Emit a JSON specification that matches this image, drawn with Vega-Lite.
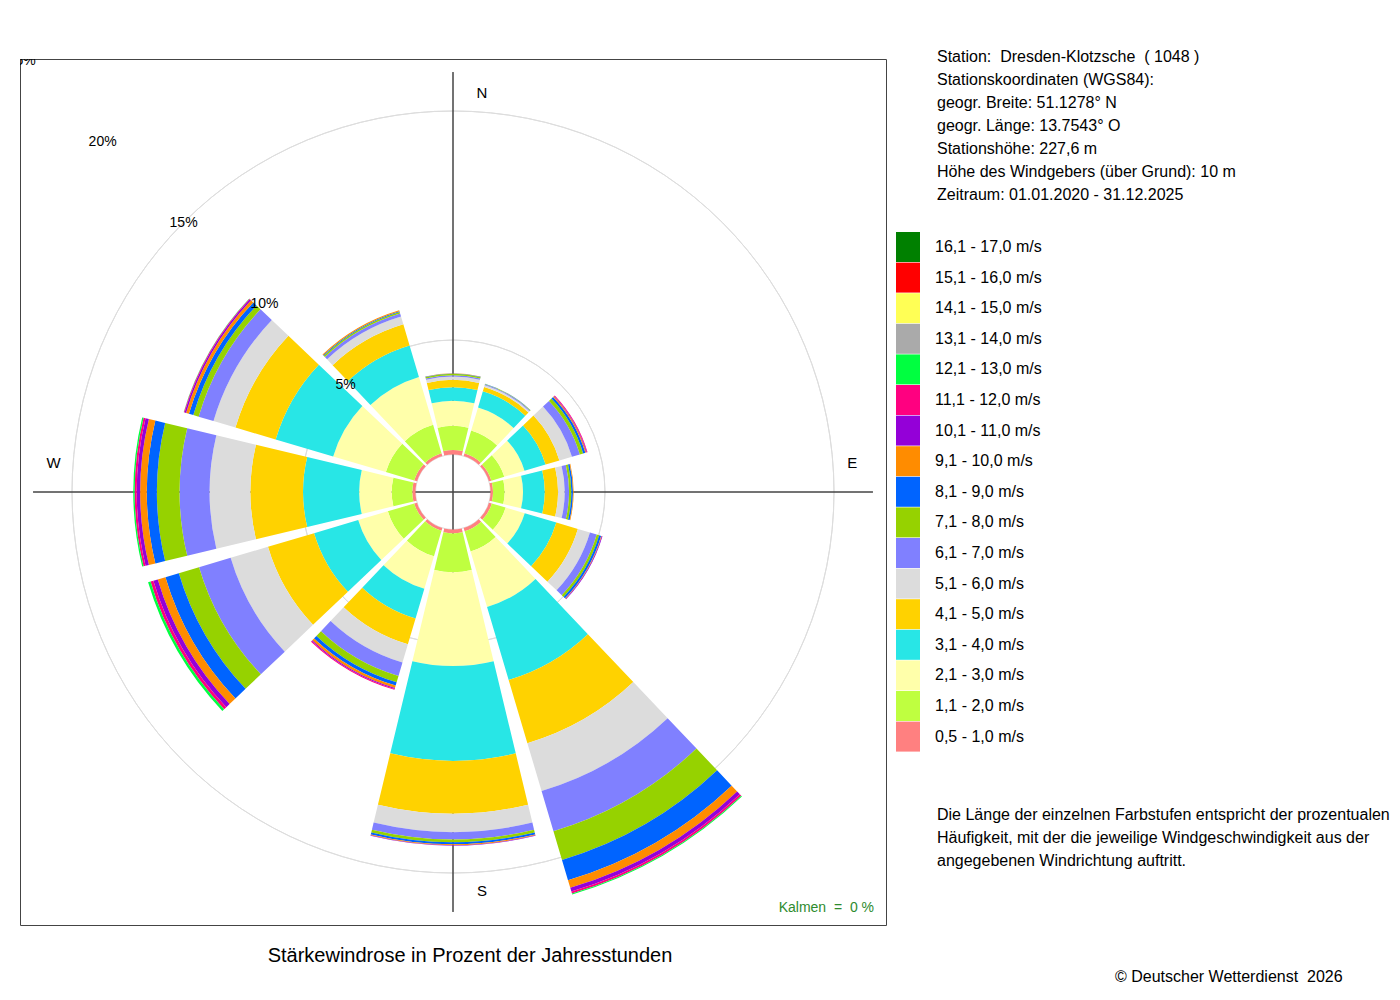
{
  "$schema": "https://vega.github.io/schema/vega-lite/v6.json",
  "autosize": "none",
  "padding": {"left": 20, "top": 59, "right": 1380, "bottom": 941},
  "background": "white",
  "config": {
    "font": "Liberation Sans",
    "view": {"stroke": "#444444", "strokeWidth": 1},
    "title": {"fontWeight": "normal", "color": "black", "subtitleColor": "black", "subtitleFontWeight": "normal"}
  },
  "datasets": {
    "klassen": [
      {"stufe": 1, "klasse": "0,5 - 1,0 m/s"},
      {"stufe": 2, "klasse": "1,1 - 2,0 m/s"},
      {"stufe": 3, "klasse": "2,1 - 3,0 m/s"},
      {"stufe": 4, "klasse": "3,1 - 4,0 m/s"},
      {"stufe": 5, "klasse": "4,1 - 5,0 m/s"},
      {"stufe": 6, "klasse": "5,1 - 6,0 m/s"},
      {"stufe": 7, "klasse": "6,1 - 7,0 m/s"},
      {"stufe": 8, "klasse": "7,1 - 8,0 m/s"},
      {"stufe": 9, "klasse": "8,1 - 9,0 m/s"},
      {"stufe": 10, "klasse": "9,1 - 10,0 m/s"},
      {"stufe": 11, "klasse": "10,1 - 11,0 m/s"},
      {"stufe": 12, "klasse": "11,1 - 12,0 m/s"},
      {"stufe": 13, "klasse": "12,1 - 13,0 m/s"}
    ],
    "wind": [
      {"richtung": 0, "stufe": 1, "anteil": 0.20},
      {"richtung": 0, "stufe": 2, "anteil": 1.05},
      {"richtung": 0, "stufe": 3, "anteil": 1.10},
      {"richtung": 0, "stufe": 4, "anteil": 0.59},
      {"richtung": 0, "stufe": 5, "anteil": 0.32},
      {"richtung": 0, "stufe": 6, "anteil": 0.14},
      {"richtung": 0, "stufe": 7, "anteil": 0.06},
      {"richtung": 0, "stufe": 8, "anteil": 0.06},
      {"richtung": 0, "stufe": 9, "anteil": 0.02},
      {"richtung": 0, "stufe": 10, "anteil": 0.01},
      {"richtung": 30, "stufe": 1, "anteil": 0.13},
      {"richtung": 30, "stufe": 2, "anteil": 1.03},
      {"richtung": 30, "stufe": 3, "anteil": 1.05},
      {"richtung": 30, "stufe": 4, "anteil": 0.74},
      {"richtung": 30, "stufe": 5, "anteil": 0.20},
      {"richtung": 30, "stufe": 6, "anteil": 0.07},
      {"richtung": 30, "stufe": 7, "anteil": 0.04},
      {"richtung": 30, "stufe": 8, "anteil": 0.02},
      {"richtung": 30, "stufe": 9, "anteil": 0.01},
      {"richtung": 60, "stufe": 1, "anteil": 0.11},
      {"richtung": 60, "stufe": 2, "anteil": 0.59},
      {"richtung": 60, "stufe": 3, "anteil": 0.92},
      {"richtung": 60, "stufe": 4, "anteil": 0.96},
      {"richtung": 60, "stufe": 5, "anteil": 0.63},
      {"richtung": 60, "stufe": 6, "anteil": 0.57},
      {"richtung": 60, "stufe": 7, "anteil": 0.36},
      {"richtung": 60, "stufe": 8, "anteil": 0.15},
      {"richtung": 60, "stufe": 9, "anteil": 0.10},
      {"richtung": 60, "stufe": 10, "anteil": 0.04},
      {"richtung": 60, "stufe": 11, "anteil": 0.03},
      {"richtung": 60, "stufe": 12, "anteil": 0.03},
      {"richtung": 90, "stufe": 1, "anteil": 0.11},
      {"richtung": 90, "stufe": 2, "anteil": 0.51},
      {"richtung": 90, "stufe": 3, "anteil": 0.80},
      {"richtung": 90, "stufe": 4, "anteil": 0.95},
      {"richtung": 90, "stufe": 5, "anteil": 0.58},
      {"richtung": 90, "stufe": 6, "anteil": 0.29},
      {"richtung": 90, "stufe": 7, "anteil": 0.19},
      {"richtung": 90, "stufe": 8, "anteil": 0.10},
      {"richtung": 90, "stufe": 9, "anteil": 0.07},
      {"richtung": 90, "stufe": 10, "anteil": 0.03},
      {"richtung": 120, "stufe": 1, "anteil": 0.13},
      {"richtung": 120, "stufe": 2, "anteil": 0.63},
      {"richtung": 120, "stufe": 3, "anteil": 0.87},
      {"richtung": 120, "stufe": 4, "anteil": 1.44},
      {"richtung": 120, "stufe": 5, "anteil": 0.98},
      {"richtung": 120, "stufe": 6, "anteil": 0.55},
      {"richtung": 120, "stufe": 7, "anteil": 0.31},
      {"richtung": 120, "stufe": 8, "anteil": 0.11},
      {"richtung": 120, "stufe": 9, "anteil": 0.09},
      {"richtung": 120, "stufe": 10, "anteil": 0.03},
      {"richtung": 120, "stufe": 11, "anteil": 0.03},
      {"richtung": 150, "stufe": 1, "anteil": 0.15},
      {"richtung": 150, "stufe": 2, "anteil": 0.92},
      {"richtung": 150, "stufe": 3, "anteil": 2.53},
      {"richtung": 150, "stufe": 4, "anteil": 3.32},
      {"richtung": 150, "stufe": 5, "anteil": 2.88},
      {"richtung": 150, "stufe": 6, "anteil": 2.18},
      {"richtung": 150, "stufe": 7, "anteil": 1.83},
      {"richtung": 150, "stufe": 8, "anteil": 1.31},
      {"richtung": 150, "stufe": 9, "anteil": 0.92},
      {"richtung": 150, "stufe": 10, "anteil": 0.35},
      {"richtung": 150, "stufe": 11, "anteil": 0.17},
      {"richtung": 150, "stufe": 12, "anteil": 0.09},
      {"richtung": 150, "stufe": 13, "anteil": 0.04},
      {"richtung": 180, "stufe": 1, "anteil": 0.17},
      {"richtung": 180, "stufe": 2, "anteil": 1.69},
      {"richtung": 180, "stufe": 3, "anteil": 4.10},
      {"richtung": 180, "stufe": 4, "anteil": 4.14},
      {"richtung": 180, "stufe": 5, "anteil": 2.31},
      {"richtung": 180, "stufe": 6, "anteil": 0.80},
      {"richtung": 180, "stufe": 7, "anteil": 0.32},
      {"richtung": 180, "stufe": 8, "anteil": 0.12},
      {"richtung": 180, "stufe": 9, "anteil": 0.09},
      {"richtung": 180, "stufe": 10, "anteil": 0.04},
      {"richtung": 180, "stufe": 11, "anteil": 0.02},
      {"richtung": 210, "stufe": 1, "anteil": 0.13},
      {"richtung": 210, "stufe": 2, "anteil": 1.16},
      {"richtung": 210, "stufe": 3, "anteil": 1.48},
      {"richtung": 210, "stufe": 4, "anteil": 1.35},
      {"richtung": 210, "stufe": 5, "anteil": 1.18},
      {"richtung": 210, "stufe": 6, "anteil": 0.83},
      {"richtung": 210, "stufe": 7, "anteil": 0.61},
      {"richtung": 210, "stufe": 8, "anteil": 0.29},
      {"richtung": 210, "stufe": 9, "anteil": 0.15},
      {"richtung": 210, "stufe": 10, "anteil": 0.11},
      {"richtung": 210, "stufe": 11, "anteil": 0.04},
      {"richtung": 210, "stufe": 12, "anteil": 0.04},
      {"richtung": 240, "stufe": 1, "anteil": 0.13},
      {"richtung": 240, "stufe": 2, "anteil": 1.20},
      {"richtung": 240, "stufe": 3, "anteil": 1.35},
      {"richtung": 240, "stufe": 4, "anteil": 2.01},
      {"richtung": 240, "stufe": 5, "anteil": 2.10},
      {"richtung": 240, "stufe": 6, "anteil": 1.70},
      {"richtung": 240, "stufe": 7, "anteil": 1.44},
      {"richtung": 240, "stufe": 8, "anteil": 0.92},
      {"richtung": 240, "stufe": 9, "anteil": 0.61},
      {"richtung": 240, "stufe": 10, "anteil": 0.35},
      {"richtung": 240, "stufe": 11, "anteil": 0.20},
      {"richtung": 240, "stufe": 12, "anteil": 0.13},
      {"richtung": 240, "stufe": 13, "anteil": 0.11},
      {"richtung": 270, "stufe": 1, "anteil": 0.14},
      {"richtung": 270, "stufe": 2, "anteil": 0.90},
      {"richtung": 270, "stufe": 3, "anteil": 1.42},
      {"richtung": 270, "stufe": 4, "anteil": 2.45},
      {"richtung": 270, "stufe": 5, "anteil": 2.30},
      {"richtung": 270, "stufe": 6, "anteil": 1.78},
      {"richtung": 270, "stufe": 7, "anteil": 1.31},
      {"richtung": 270, "stufe": 8, "anteil": 0.99},
      {"richtung": 270, "stufe": 9, "anteil": 0.44},
      {"richtung": 270, "stufe": 10, "anteil": 0.29},
      {"richtung": 270, "stufe": 11, "anteil": 0.15},
      {"richtung": 270, "stufe": 12, "anteil": 0.09},
      {"richtung": 270, "stufe": 13, "anteil": 0.06},
      {"richtung": 300, "stufe": 1, "anteil": 0.13},
      {"richtung": 300, "stufe": 2, "anteil": 1.29},
      {"richtung": 300, "stufe": 3, "anteil": 2.40},
      {"richtung": 300, "stufe": 4, "anteil": 2.62},
      {"richtung": 300, "stufe": 5, "anteil": 1.83},
      {"richtung": 300, "stufe": 6, "anteil": 1.00},
      {"richtung": 300, "stufe": 7, "anteil": 0.68},
      {"richtung": 300, "stufe": 8, "anteil": 0.24},
      {"richtung": 300, "stufe": 9, "anteil": 0.20},
      {"richtung": 300, "stufe": 10, "anteil": 0.13},
      {"richtung": 300, "stufe": 11, "anteil": 0.07},
      {"richtung": 300, "stufe": 12, "anteil": 0.03},
      {"richtung": 300, "stufe": 13, "anteil": 0.01},
      {"richtung": 330, "stufe": 1, "anteil": 0.13},
      {"richtung": 330, "stufe": 2, "anteil": 1.29},
      {"richtung": 330, "stufe": 3, "anteil": 2.18},
      {"richtung": 330, "stufe": 4, "anteil": 1.44},
      {"richtung": 330, "stufe": 5, "anteil": 0.96},
      {"richtung": 330, "stufe": 6, "anteil": 0.35},
      {"richtung": 330, "stufe": 7, "anteil": 0.14},
      {"richtung": 330, "stufe": 8, "anteil": 0.07},
      {"richtung": 330, "stufe": 9, "anteil": 0.04},
      {"richtung": 330, "stufe": 10, "anteil": 0.04}
    ]
  },
  "title": {
    "text": [
      "Station: \u00a0Dresden-Klotzsche \u00a0( 1048 )",
      "Stationskoordinaten (WGS84):",
      "geogr. Breite: 51.1278° N",
      "geogr. Länge: 13.7543° O",
      "Stationshöhe: 227,6 m",
      "Höhe des Windgebers (über Grund): 10 m",
      "Zeitraum: 01.01.2020 - 31.12.2025"
    ],
    "subtitle": [
      "Die Länge der einzelnen Farbstufen entspricht der prozentualen",
      "Häufigkeit, mit der die jeweilige Windgeschwindigkeit aus der",
      "angegebenen Windrichtung auftritt."
    ],
    "orient": "top",
    "anchor": "start",
    "frame": "group",
    "align": "left",
    "baseline": "top",
    "offset": 0,
    "dx": 917,
    "dy": 810,
    "fontSize": 16,
    "lineHeight": 23,
    "subtitleFontSize": 16,
    "subtitleLineHeight": 23,
    "subtitlePadding": 604
  },
  "vconcat": [
    {
      "title": {
        "text": "© Deutscher Wetterdienst \u00a02026",
        "orient": "bottom",
        "anchor": "start",
        "frame": "group",
        "align": "left",
        "baseline": "top",
        "offset": 3.5,
        "dx": 1095,
        "fontSize": 16
      },
      "vconcat": [
        {
          "title": {
            "text": "Stärkewindrose in Prozent der Jahresstunden",
            "orient": "bottom",
            "anchor": "start",
            "frame": "group",
            "align": "center",
            "baseline": "top",
            "offset": 20,
            "dx": 450,
            "fontSize": 20
          },
          "vconcat": [
            {
              "title": {
                "text": "Kalmen \u00a0= \u00a00 %",
                "orient": "bottom",
                "anchor": "end",
                "frame": "group",
                "align": "right",
                "baseline": "top",
                "offset": 0,
                "dx": -12,
                "dy": -24,
                "fontSize": 14,
                "color": "#2E8B2E"
              },
              "width": 866,
              "height": 866,
              "view": {"stroke": "#444444", "strokeWidth": 1, "fill": "white"},
              "resolve": {"scale": {"theta": "independent"}},
              "layer": [
                {
                  "data": {"values": [
                    {"p": 5, "label": "5%"},
                    {"p": 10, "label": "10%"},
                    {"p": 15, "label": "15%"},
                    {"p": 20, "label": "20%"},
                    {"p": 25, "label": "25%"}
                  ]},
                  "mark": {"type": "arc", "filled": false, "stroke": "#dddddd", "strokeWidth": 1, "clip": true},
                  "encoding": {
                    "theta": {"datum": 0, "type": "quantitative", "scale": {"type": "linear", "domain": [0, 360], "range": [0, 6.283185307179586]}},
                    "theta2": {"datum": 360},
                    "radius": {"field": "p", "type": "quantitative", "scale": {"type": "linear", "zero": false, "domain": [0, 25], "range": [37.5, 610]}},
                    "radius2": {"value": 0}
                  }
                },
                {
                  "data": {"values": [
                    {"richtung": 0},
                    {"richtung": 90},
                    {"richtung": 180},
                    {"richtung": 270}
                  ]},
                  "mark": {"type": "arc", "filled": false, "stroke": "#444444", "strokeWidth": 1},
                  "encoding": {
                    "theta": {"field": "richtung", "type": "quantitative", "scale": {"type": "linear", "domain": [0, 360], "range": [0, 6.283185307179586]}},
                    "theta2": {"field": "richtung"},
                    "radius": {"datum": 16.7, "type": "quantitative"},
                    "radius2": {"value": 0}
                  }
                },
                {
                  "data": {"name": "wind"},
                  "transform": [
                    {"lookup": "stufe", "from": {"data": {"name": "klassen"}, "key": "stufe", "fields": ["klasse"]}},
                    {"stack": "anteil", "groupby": ["richtung"], "sort": [{"field": "stufe", "order": "ascending"}], "as": ["r0", "r1"]}
                  ],
                  "mark": {"type": "arc"},
                  "encoding": {
                    "theta": {
                      "field": "richtung",
                      "type": "ordinal",
                      "scale": {
                        "type": "band",
                        "domain": [0, 30, 60, 90, 120, 150, 180, 210, 240, 270, 300, 330],
                        "range": [-0.2617994, 6.0213859],
                        "paddingInner": 0.1,
                        "paddingOuter": 0.05
                      }
                    },
                    "radius": {"field": "r1", "type": "quantitative"},
                    "radius2": {"field": "r0"},
                    "color": {
                      "field": "klasse",
                      "type": "nominal",
                      "scale": {
                        "domain": [
                          "16,1 - 17,0 m/s", "15,1 - 16,0 m/s", "14,1 - 15,0 m/s", "13,1 - 14,0 m/s",
                          "12,1 - 13,0 m/s", "11,1 - 12,0 m/s", "10,1 - 11,0 m/s", "9,1 - 10,0 m/s",
                          "8,1 - 9,0 m/s", "7,1 - 8,0 m/s", "6,1 - 7,0 m/s", "5,1 - 6,0 m/s",
                          "4,1 - 5,0 m/s", "3,1 - 4,0 m/s", "2,1 - 3,0 m/s", "1,1 - 2,0 m/s", "0,5 - 1,0 m/s"
                        ],
                        "range": [
                          "#008000", "#FF0000", "#FFFF55", "#AAAAAA",
                          "#00FF40", "#FF0080", "#9400D8", "#FF8C00",
                          "#0064FF", "#96D200", "#8080FF", "#DCDCDC",
                          "#FFD200", "#28E6E6", "#FFFFAA", "#BFFF40", "#FF8080"
                        ]
                      },
                      "legend": {
                        "title": null,
                        "orient": "none",
                        "direction": "vertical",
                        "legendX": 873,
                        "legendY": 173,
                        "padding": 0,
                        "rowPadding": 0.6,
                        "symbolType": "M-0.8,-1H0.8V1H-0.8Z",
                        "symbolSize": 900,
                        "symbolStrokeWidth": 0,
                        "symbolOpacity": 1,
                        "labelOffset": 12,
                        "labelFontSize": 16,
                        "labelColor": "black",
                        "labelLimit": 300
                      }
                    }
                  }
                },
                {
                  "data": {"values": [
                    {"p": 5, "label": "5%"},
                    {"p": 10, "label": "10%"},
                    {"p": 15, "label": "15%"},
                    {"p": 20, "label": "20%"},
                    {"p": 25, "label": "25%"}
                  ]},
                  "mark": {"type": "text", "fontSize": 14, "color": "black", "align": "center", "baseline": "middle", "clip": true},
                  "encoding": {
                    "theta": {"datum": 315, "type": "quantitative", "scale": {"type": "linear", "domain": [0, 360], "range": [0, 6.283185307179586]}},
                    "radius": {"field": "p", "type": "quantitative"},
                    "text": {"field": "label"}
                  }
                },
                {
                  "data": {"values": [
                    {"richtung": 0, "label": "N"},
                    {"richtung": 180, "label": "S"}
                  ]},
                  "mark": {"type": "text", "fontSize": 15, "color": "black", "align": "center", "baseline": "middle", "dx": 29},
                  "encoding": {
                    "theta": {"field": "richtung", "type": "quantitative", "scale": {"type": "linear", "domain": [0, 360], "range": [0, 6.283185307179586]}},
                    "radius": {"datum": 15.8, "type": "quantitative"},
                    "text": {"field": "label"}
                  }
                },
                {
                  "data": {"values": [
                    {"richtung": 90, "label": "E"},
                    {"richtung": 270, "label": "W"}
                  ]},
                  "mark": {"type": "text", "fontSize": 15, "color": "black", "align": "center", "baseline": "middle", "dy": -29},
                  "encoding": {
                    "theta": {"field": "richtung", "type": "quantitative", "scale": {"type": "linear", "domain": [0, 360], "range": [0, 6.283185307179586]}},
                    "radius": {"datum": 15.8, "type": "quantitative"},
                    "text": {"field": "label"}
                  }
                }
              ]
            }
          ]
        }
      ]
    }
  ]
}
